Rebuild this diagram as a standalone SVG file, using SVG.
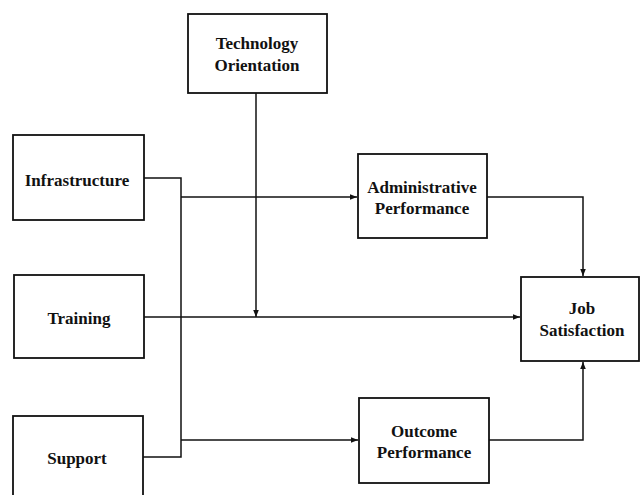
<svg xmlns="http://www.w3.org/2000/svg" width="641" height="495" viewBox="0 0 641 495">
<style>
.box{fill:#fff;stroke:#111;stroke-width:1.8}
.lbl{font-family:'Liberation Serif','DejaVu Serif',serif;font-weight:700;font-size:17px;fill:#111;text-anchor:middle}
.ln{fill:none;stroke:#111;stroke-width:1.5}
</style>
<defs>
<marker id="ah" viewBox="0 0 10 10" refX="10" refY="5" markerWidth="7" markerHeight="7" markerUnits="userSpaceOnUse" orient="auto">
<path d="M0,1 L10,5 L0,9 z" fill="#111"/>
</marker>
</defs>
<rect width="641" height="495" fill="#fff"/>
<g id="connectors">
<path class="ln" d="M144,178 H181 V457 H143"/>
<path class="ln" d="M181,197 H357" marker-end="url(#ah)"/>
<path class="ln" d="M181,440 H358" marker-end="url(#ah)"/>
<path class="ln" d="M256,93 V317" marker-end="url(#ah)"/>
<path class="ln" d="M144,317 H520" marker-end="url(#ah)"/>
<path class="ln" d="M487,197 H583 V276" marker-end="url(#ah)"/>
<path class="ln" d="M489,440 H583 V362" marker-end="url(#ah)"/>
</g>
<g id="tech">
<rect class="box" x="188" y="14" width="139" height="79"/>
<text class="lbl" x="257" y="49">Technology</text>
<text class="lbl" x="257" y="71">Orientation</text>
</g>
<g id="infra">
<rect class="box" x="13" y="135" width="131" height="85"/>
<text class="lbl" x="77" y="186">Infrastructure</text>
</g>
<g id="training">
<rect class="box" x="14" y="275" width="130" height="83"/>
<text class="lbl" x="79" y="324">Training</text>
</g>
<g id="support">
<rect class="box" x="13" y="416" width="130" height="90"/>
<text class="lbl" x="77" y="464">Support</text>
</g>
<g id="admin">
<rect class="box" x="358" y="154" width="129" height="84"/>
<text class="lbl" x="422" y="193">Administrative</text>
<text class="lbl" x="422" y="214">Performance</text>
</g>
<g id="outcome">
<rect class="box" x="359" y="398" width="130" height="85"/>
<text class="lbl" x="424" y="437">Outcome</text>
<text class="lbl" x="424" y="458">Performance</text>
</g>
<g id="job">
<rect class="box" x="521" y="277" width="118" height="84"/>
<text class="lbl" x="582" y="314">Job</text>
<text class="lbl" x="582" y="336">Satisfaction</text>
</g>
</svg>
